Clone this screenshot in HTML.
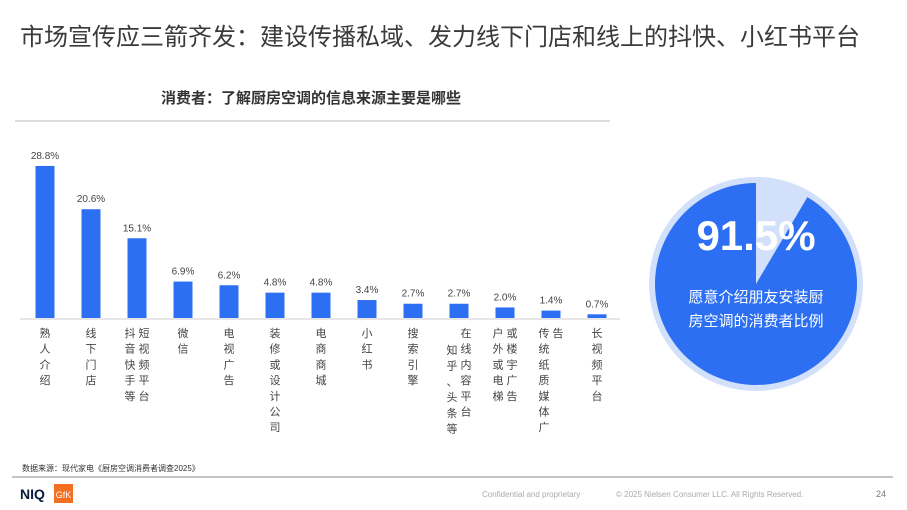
<!DOCTYPE html>
<html><head><meta charset="utf-8">
<style>
body{margin:0;width:907px;height:510px;background:#fff;overflow:hidden;font-family:"Liberation Sans","Noto Sans CJK SC",sans-serif;}
svg{position:absolute;left:0;top:0}
</style></head>
<body>
<svg width="907" height="510">
<text x="20" y="45" font-size="24" fill="#3a3a3a" font-family="Liberation Sans,Noto Sans CJK SC,sans-serif">市场宣传应三箭齐发：建设传播私域、发力线下门店和线上的抖快、小红书平台</text>
<text x="311" y="103" font-size="15" font-weight="bold" fill="#333" text-anchor="middle" font-family="Liberation Sans,Noto Sans CJK SC,sans-serif">消费者：了解厨房空调的信息来源主要是哪些</text>
<line x1="15" y1="121" x2="610" y2="121" stroke="#bbb" stroke-width="1"/>
<g id="chart"></g>
<line x1="20" y1="319" x2="620" y2="319" stroke="#ddd" stroke-width="1.5"/>
<circle cx="756" cy="284" r="107" fill="#d3e0fb"/>
<path id="pie" fill="#2d6ff2"/>
<text x="756" y="250" font-size="42" font-weight="bold" fill="#fff" text-anchor="middle">91.5%</text>
<text x="756" y="302" font-size="15" fill="#fff" text-anchor="middle" font-family="Liberation Sans,Noto Sans CJK SC,sans-serif">愿意介绍朋友安装厨</text>
<text x="756" y="326" font-size="15" fill="#fff" text-anchor="middle" font-family="Liberation Sans,Noto Sans CJK SC,sans-serif">房空调的消费者比例</text>
<text x="22" y="471" font-size="8" fill="#333" font-family="Liberation Sans,Noto Sans CJK SC,sans-serif">数据来源：现代家电《厨房空调消费者调查2025》</text>
<line x1="12" y1="477" x2="893" y2="477" stroke="#888" stroke-width="1"/>
<text x="20" y="499" font-size="14" font-weight="bold" fill="#0a1a3a">NIQ</text>
<rect x="54" y="484" width="19" height="19" fill="#f36f21"/>
<text x="63.5" y="498" font-size="9" fill="#fff" text-anchor="middle">GfK</text>
<text x="482" y="497" font-size="8" fill="#aaa">Confidential and proprietary</text>
<text x="616" y="497" font-size="8" fill="#aaa">© 2025 Nielsen Consumer LLC. All Rights Reserved.</text>
<text x="886" y="497" font-size="9" fill="#777" text-anchor="end">24</text>
</svg>
<script>
const categories=[["熟人介绍"],["线下门店"],["抖音快手等","短视频平台"],["微信"],["电视广告"],["装修或设计公司"],["电商商城"],["小红书"],["搜索引擎"],["知乎、头条等","在线内容平台"],["户外或电梯","或楼宇广告"],["传统纸质媒体广","告"],["长视频平台"]];
const values=[28.8,20.6,15.1,6.9,6.2,4.8,4.8,3.4,2.7,2.7,2.0,1.4,0.7];
const valueLabels=["28.8%","20.6%","15.1%","6.9%","6.2%","4.8%","4.8%","3.4%","2.7%","2.7%","2.0%","1.4%","0.7%"];
const pieShare=91.5;
const ns="http://www.w3.org/2000/svg";
const g=document.getElementById("chart");
const baseY=318, pxPer=5.28, x0=45, step=46, bw=19;
const xScale=i=>x0+i*step;
const yScale=v=>baseY-v*pxPer;
values.forEach((v,i)=>{
  const cx=xScale(i);
  const r=document.createElementNS(ns,"rect");
  r.setAttribute("x",cx-bw/2);r.setAttribute("y",yScale(v));
  r.setAttribute("width",bw);r.setAttribute("height",baseY-yScale(v));
  r.setAttribute("fill","#2d6ff2");
  
  
  g.appendChild(r);
  const t=document.createElementNS(ns,"text");
  t.setAttribute("x",cx);t.setAttribute("y",yScale(v)-7);
  t.setAttribute("font-size","10");t.setAttribute("fill","#444");t.setAttribute("text-anchor","middle");
  t.textContent=valueLabels[i];
  
  
  g.appendChild(t);
  const cols=categories[i];
  cols.forEach((col,k)=>{
    const colX=cols.length===1?cx:cx+(k===0?-7:7);
    let startY=337;
    if(cols.length===2&&k===0&&i===9)startY=354;
    [...col].forEach((ch,j)=>{
      const c=document.createElementNS(ns,"text");
      c.setAttribute("x",colX);c.setAttribute("y",startY+j*15.7);
      c.setAttribute("font-size","11");c.setAttribute("fill","#444");c.setAttribute("text-anchor","middle");
      c.setAttribute("font-family","Noto Sans CJK SC,sans-serif");
      c.textContent=ch;
      
      
      g.appendChild(c);
    });
  });
});
// pie
const cx=756,cy=284,R=101;
const a=(100-pieShare)/100*2*Math.PI;
const sx=cx+R*Math.sin(a), sy=cy-R*Math.cos(a);
document.getElementById("pie").setAttribute("d",`M${cx},${cy} L${sx},${sy} A${R},${R} 0 1 1 ${cx},${cy-R} Z`);
</script>
</body></html>
